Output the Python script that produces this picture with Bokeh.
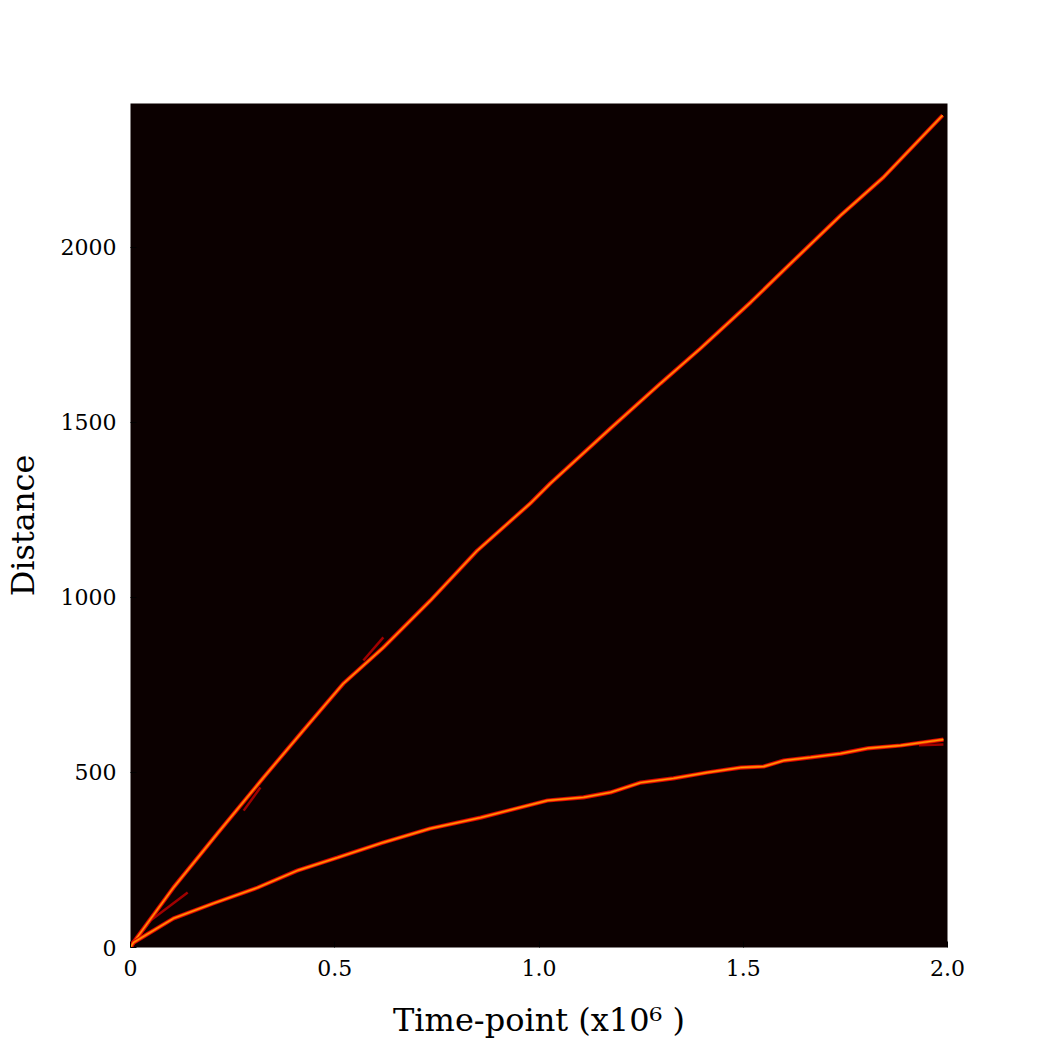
from bokeh.plotting import figure
from bokeh.embed import file_html
from bokeh.resources import INLINE
from bokeh.models import FixedTicker, Range1d

# Fast trajectory (time in 1e6 units, distance)
fast_t = [0.0, 0.007, 0.105, 0.213, 0.326, 0.423, 0.521, 0.619, 0.734, 0.849, 0.979,
          1.028, 1.175, 1.297, 1.395, 1.518, 1.616, 1.738, 1.843, 1.988]
fast_d = [0, 14, 171, 326, 486, 620, 754, 857, 991, 1134, 1269,
          1326, 1483, 1611, 1711, 1843, 1954, 2091, 2200, 2377]

# Slow trajectory
slow_t = [0.0, 0.007, 0.105, 0.203, 0.311, 0.409, 0.507, 0.619, 0.734, 0.857, 1.021,
          1.109, 1.175, 1.249, 1.329, 1.412, 1.493, 1.550, 1.599, 1.665, 1.738,
          1.804, 1.885, 1.990]
slow_d = [0, 14, 83, 126, 171, 220, 257, 300, 340, 371, 420,
          429, 443, 471, 483, 500, 514, 517, 534, 543, 554,
          569, 577, 594]

# Faint side branches
branch_t = [[0.02, 0.049, 0.140], [0.570, 0.619], [0.277, 0.318], [1.93, 1.99]]
branch_d = [[30, 77, 157], [820, 886], [391, 457], [578, 580]]

x_ticks = [0, 0.5, 1.0, 1.5, 2.0]
x_labels = ["0", "0.5", "1.0", "1.5", "2.0"]
y_ticks = [0, 500, 1000, 1500, 2000]

p = figure(frame_width=817, frame_height=844, output_backend="svg",
           toolbar_location=None, x_range=Range1d(0, 2.0), y_range=Range1d(0, 2411),
           min_border_left=122, min_border_top=103, min_border_right=80,
           min_border_bottom=90)

p.background_fill_color = "#0b0000"
p.border_fill_color = "white"
p.outline_line_color = None
p.grid.visible = False

for bt, bd in zip(branch_t, branch_d):
    p.line(bt, bd, line_color="#b00000", line_width=2.5, line_alpha=0.9)

for tt, dd in [(fast_t, fast_d), (slow_t, slow_d)]:
    p.line(tt, dd, line_color="#d40000", line_width=4.2)
    p.line(tt, dd, line_color="#ff5500", line_width=2.4)
    p.line(tt, dd, line_color="#ffb000", line_width=1.0, line_alpha=0.8)

font = "DejaVu Serif"
p.xaxis.ticker = FixedTicker(ticks=x_ticks)
p.xaxis.major_label_overrides = {t: l for t, l in zip(x_ticks, x_labels)}
p.yaxis.ticker = FixedTicker(ticks=y_ticks)
p.yaxis.major_label_overrides = {t: str(t) for t in y_ticks}

for ax in (p.xaxis, p.yaxis):
    ax.axis_line_color = None
    ax.major_tick_in = 6
    ax.major_tick_out = 0
    ax.major_tick_line_color = "black"
    ax.minor_tick_line_color = None
    ax.major_label_text_font = font
    ax.major_label_text_font_size = "22px"
    ax.major_label_text_color = "black"
    ax.axis_label_text_font = font
    ax.axis_label_text_font_size = "32px"
    ax.axis_label_text_font_style = "normal"
    ax.axis_label_text_color = "black"

p.xaxis.axis_label = "Time-point (x10⁶ )"
p.yaxis.axis_label = "Distance"
p.xaxis.major_label_standoff = 12
p.xaxis.axis_label_standoff = 22
p.yaxis.major_label_standoff = 14
p.yaxis.axis_label_standoff = 16

open("out.html", "w").write(file_html(p, INLINE))
